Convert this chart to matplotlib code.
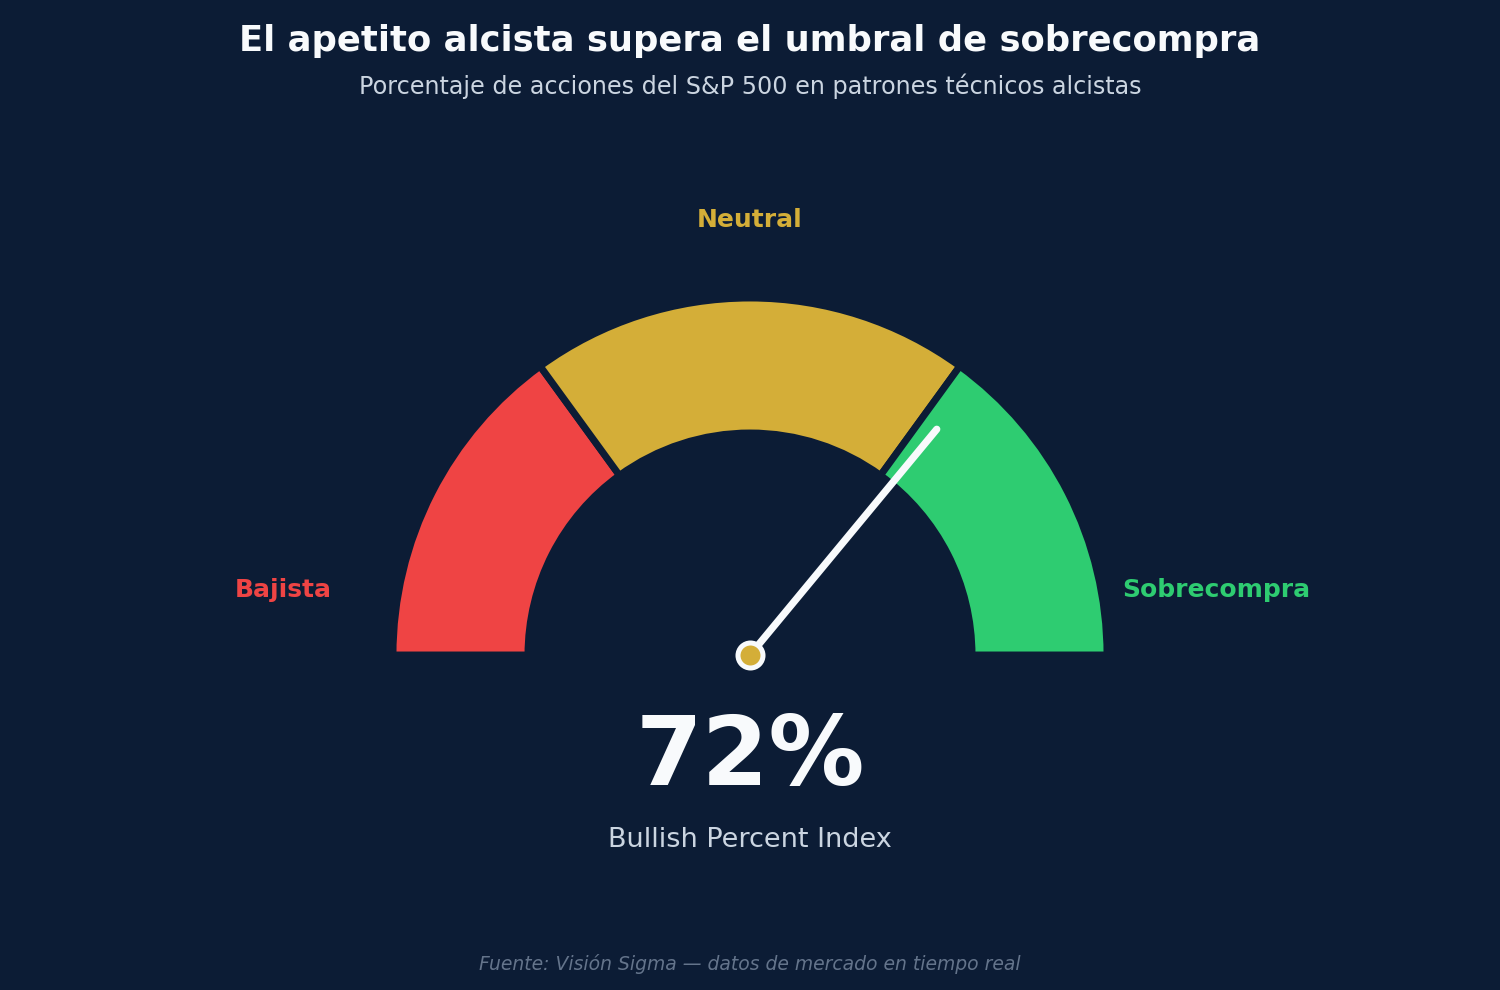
import matplotlib

matplotlib.use("Agg")
import matplotlib.pyplot as plt
import numpy as np
from matplotlib.patches import Wedge

BG = "#0c1c35"
WHITE = "#f8fafc"

zone_names = ["Bajista", "Neutral", "Sobrecompra"]
zone_bounds = [0, 30, 70, 100]
zone_colors = ["#ef4444", "#d4ae38", "#2ecc71"]
value = 72

title = "El apetito alcista supera el umbral de sobrecompra"
subtitle = "Porcentaje de acciones del S&P 500 en patrones técnicos alcistas"
metric_name = "Bullish Percent Index"
source = "Fuente: Visión Sigma — datos de mercado en tiempo real"


def to_angle(v):
    return 180 - v * 1.8


fig = plt.figure(figsize=(15, 9.9), dpi=100)
fig.patch.set_facecolor(BG)
ax = fig.add_axes([0, 0, 1, 1])
ax.set_facecolor(BG)
ax.set_xlim(0, 1500)
ax.set_ylim(0, 990)
ax.axis("off")

cx, cy = 750, 335
r_out, band = 357, 135

for lo, hi, color in zip(zone_bounds[:-1], zone_bounds[1:], zone_colors):
    ax.add_patch(
        Wedge(
            (cx, cy), r_out, to_angle(hi), to_angle(lo), width=band,
            facecolor=color, edgecolor=BG, linewidth=5,
        )
    )

# zone labels
label_pos = [(283, 400), (750, 770), (1216, 400)]
for name, color, (lx, ly) in zip(zone_names, zone_colors, label_pos):
    ax.text(lx, ly, name, color=color, fontsize=18, fontweight="bold",
            ha="center", va="center")

# needle
ang = np.radians(to_angle(value))
needle_len = 293
ax.plot([cx, cx + needle_len * np.cos(ang)], [cy, cy + needle_len * np.sin(ang)],
        color=WHITE, linewidth=5.2, solid_capstyle="round", zorder=3)
ax.plot(cx, cy, "o", markersize=18, markerfacecolor=zone_colors[1],
        markeredgecolor=WHITE, markeredgewidth=3.6, zorder=4)

ax.text(750, 232, f"{value}%", color=WHITE, fontsize=69, fontweight="bold",
        ha="center", va="center")
ax.text(750, 150, metric_name, color="#cbd5e1", fontsize=19.5, ha="center", va="center")

fig.text(0.5, 1 - 41 / 990, title, color=WHITE, fontsize=25.5, fontweight="bold",
         ha="center", va="center")
fig.text(0.5, 1 - 86 / 990, subtitle, color="#cbd5e1", fontsize=17.2,
         ha="center", va="center")
fig.text(0.5, 1 - 964 / 990, source, color="#64748b", fontsize=13.5,
         style="italic", ha="center", va="center")

fig.savefig("out.png", dpi=100, facecolor=BG)
